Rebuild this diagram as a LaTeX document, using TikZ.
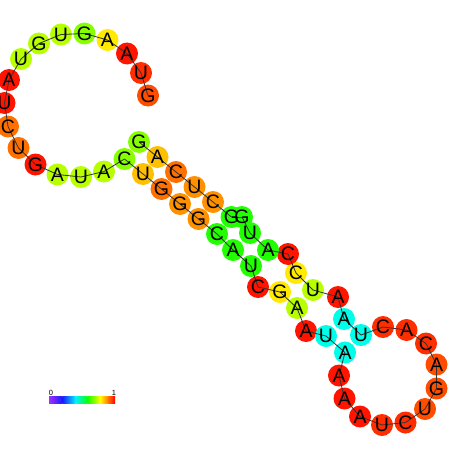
\documentclass[tikz,border=0pt]{standalone}
\usepackage{fontspec}
\newfontfamily\ntfont{Liberation Sans}
\usepackage{xcolor}
\usepackage{tikz}

\definecolor{ntRed}{HTML}{FF1400}
\definecolor{ntRedA}{HTML}{FF2E00}
\definecolor{ntOrRed}{HTML}{FF4D00}
\definecolor{ntOrange}{HTML}{FF7000}
\definecolor{ntLtOrange}{HTML}{FF9000}
\definecolor{ntAmber}{HTML}{FFC000}
\definecolor{ntYellow}{HTML}{FFEA00}
\definecolor{ntYGreen}{HTML}{B8FF00}
\definecolor{ntLGreen}{HTML}{88FF00}
\definecolor{ntGreen}{HTML}{22FF00}
\definecolor{ntCyan}{HTML}{00FFE8}
\definecolor{barViolet}{HTML}{A030FF}
\definecolor{barBlue}{HTML}{1A1AFF}
\definecolor{barCyan}{HTML}{00F0FF}
\definecolor{barGreen}{HTML}{10FF00}
\definecolor{barYellow}{HTML}{FFFF00}
\definecolor{barOrange}{HTML}{FF8000}
\definecolor{barRed}{HTML}{FF0000}

\pgfdeclarelayer{paper}
\pgfdeclarelayer{circles}
\pgfdeclarelayer{links}
\pgfsetlayers{paper,circles,links,main}

\begin{document}
\begin{tikzpicture}[
  x=1pt, y=-1pt,
  nt/.style={circle, minimum size=22pt, inner sep=0pt,
    font=\ntfont\fontsize{19.5}{19.5}\selectfont,
    append after command={\pgfextra{\pgfinterruptpath
      \begin{pgfonlayer}{circles}
        \fill[#1] (\tikzlastnode.center) circle[radius=11];
      \end{pgfonlayer}\endpgfinterruptpath}}},
  bb/.style={draw=black!80, line width=0.8pt},
  tick/.style={inner sep=0pt, font=\ntfont\fontsize{7.5}{7.5}\selectfont}
]
\begin{pgfonlayer}{paper}
\fill[white] (0,0) rectangle (452,452);
\end{pgfonlayer}
\useasboundingbox (0,0) rectangle (452,452);

% exterior loop
\node[nt=ntOrRed] (n1) at (148,95.5) {G};
\node[nt=ntRedA] (n2) at (141,73) {U};
\node[nt=ntRed] (n3) at (127,53.5) {A};
\node[nt=ntYellow] (n4) at (107.5,40) {A};
\node[nt=ntLGreen] (n5) at (84.5,33.5) {G};
\node[nt=ntYGreen] (n6) at (61,34.5) {U};
\node[nt=ntYGreen] (n7) at (39,43.5) {G};
\node[nt=ntYGreen] (n8) at (21,59) {U};
\node[nt=ntRed] (n9) at (9,80) {A};
\node[nt=ntRed] (n10) at (4.5,103) {U};
\node[nt=ntOrange] (n11) at (8,126.5) {C};
\node[nt=ntOrange] (n12) at (18.5,148) {U};
\node[nt=ntRed] (n13) at (35.5,164.5) {G};
\node[nt=ntYGreen] (n14) at (57.5,174.5) {A};
\node[nt=ntYGreen] (n15) at (81,177) {U};
\node[nt=ntYGreen] (n16) at (104,171.5) {A};

% long stem, lower strand
\node[nt=ntLGreen] (n17) at (124.5,159) {C};
\node[nt=ntAmber] (n18) at (143,174) {U};
\node[nt=ntOrange] (n19) at (161.5,189) {G};
\node[nt=ntLtOrange] (n20) at (180,204) {G};
\node[nt=ntLtOrange] (n21) at (198.5,219) {G};
\node[nt=ntGreen] (n22) at (217,234) {C};

% small stems, lower side
\node[nt=ntGreen] (n23) at (233,250) {A};
\node[nt=ntGreen] (n24) at (251,266) {U};
\node[nt=ntRed] (n25) at (258,287) {C};
\node[nt=ntYellow] (n26) at (280,292) {G};
\node[nt=ntYGreen] (n27) at (297,308) {A};
\node[nt=ntRed] (n28) at (306,331) {A};
\node[nt=ntCyan] (n29) at (326,336) {U};
\node[nt=ntCyan] (n30) at (345,352.5) {A};

% hairpin loop
\node[nt=ntRed] (n31) at (339,375.5) {A};
\node[nt=ntRed] (n32) at (344.5,398.5) {A};
\node[nt=ntRed] (n33) at (360,416.5) {A};
\node[nt=ntRedA] (n34) at (382,425) {U};
\node[nt=ntRedA] (n35) at (405.5,422.5) {C};
\node[nt=ntOrRed] (n36) at (425,409) {U};
\node[nt=ntOrRed] (n37) at (436.5,388.5) {G};
\node[nt=ntOrRed] (n38) at (436.5,364.5) {A};
\node[nt=ntRedA] (n39) at (426,343.5) {C};
\node[nt=ntRedA] (n40) at (406.5,330) {A};
\node[nt=ntRedA] (n41) at (383,327) {C};

% small stems, upper side
\node[nt=ntCyan] (n42) at (361,335) {U};
\node[nt=ntCyan] (n43) at (344,319) {A};
\node[nt=ntRed] (n44) at (338,297) {A};
\node[nt=ntYGreen] (n45) at (313,290) {U};
\node[nt=ntYellow] (n46) at (296,273) {C};
\node[nt=ntRed] (n47) at (288,254) {C};
\node[nt=ntGreen] (n48) at (268,250) {A};
\node[nt=ntGreen] (n49) at (250,233) {U};
\node[nt=ntGreen] (n50) at (242,217) {G};

% long stem, upper strand
\node[nt=ntGreen] (n51) at (231.5,217) {G};
\node[nt=ntLtOrange] (n52) at (213,202) {C};
\node[nt=ntLtOrange] (n53) at (194.5,187) {U};
\node[nt=ntOrange] (n54) at (176,172) {C};
\node[nt=ntAmber] (n55) at (157.5,157) {A};
\node[nt=ntLGreen] (n56) at (139,142) {G};

% backbone
\begin{pgfonlayer}{links}
\foreach \i in {1,...,55}{
  \pgfmathtruncatemacro\j{\i+1}
  \draw[bb] (n\i.center) -- (n\j.center);
}
\end{pgfonlayer}

% colour bar
\shade[left color=barViolet, right color=barBlue] (49,396) rectangle (62.4,403);
\shade[left color=barBlue, right color=barCyan] (62.3,396) rectangle (75.6,403);
\shade[left color=barCyan, right color=barGreen] (75.5,396) rectangle (87.6,403);
\shade[left color=barGreen, right color=barYellow] (87.5,396) rectangle (100.1,403);
\shade[left color=barYellow, right color=barOrange] (100,396) rectangle (107.6,403);
\shade[left color=barOrange, right color=barRed] (107.5,396) rectangle (115,403);
\node[tick] (lo) at (51,392.5) {0};
\node[tick] (hi) at (114,392.5) {1};
\end{tikzpicture}
\end{document}
